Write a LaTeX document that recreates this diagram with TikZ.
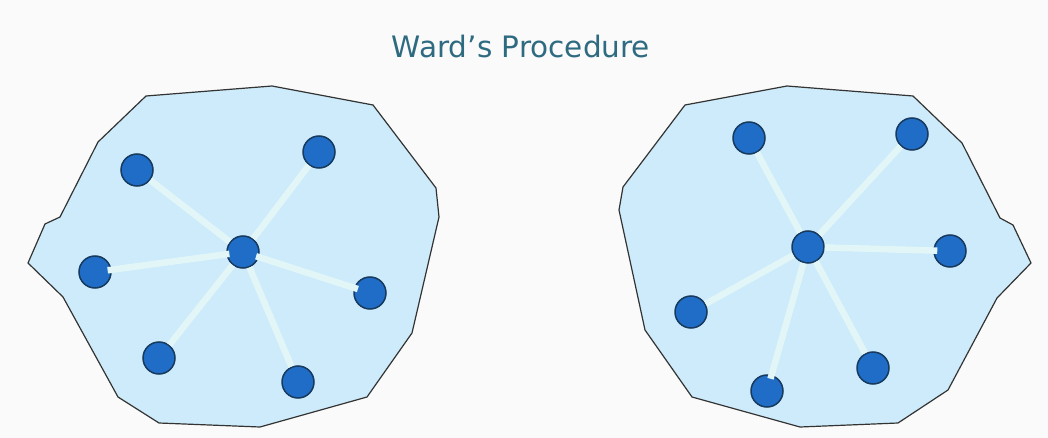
\documentclass[tikz,border=0pt]{standalone}
\usepackage{fontspec}
\setmainfont{DejaVu Sans}
\definecolor{titlec}{HTML}{2E6A80}
\definecolor{regionfill}{HTML}{CDEBFA}
\definecolor{regionline}{HTML}{333333}
\definecolor{dotfill}{HTML}{1F6DC6}
\definecolor{dotline}{HTML}{173A5E}
\definecolor{linkc}{HTML}{E2F6F8}
\definecolor{bgc}{HTML}{FAFAFA}
\begin{document}
\begin{tikzpicture}[x=1pt,y=-1pt,
  region/.style={fill=regionfill,draw=regionline,line width=1.2pt,line join=round},
  dot/.style={circle,fill=dotfill,draw=dotline,line width=1.5pt,minimum size=32pt,inner sep=0pt},
  link/.style={draw=linkc,line width=6.5pt},
  notch/.style={draw=linkc,line width=6.5pt,shorten <=-3pt,shorten >=-4pt}]
\fill[bgc] (0,0) rectangle (1048,438);
\useasboundingbox (0,0) rectangle (1048,438);
\node[text=titlec,font=\fontsize{29.5}{34}\selectfont] (title) at (521,47) {Ward’s Procedure};
% left cluster
\draw[region] (146,96) -- (272,86) -- (373,105) -- (436,188) -- (439,217) -- (412,333)
  -- (367,397) -- (260,427) -- (159,423) -- (118,397) -- (63,297) -- (28,263)
  -- (45,224) -- (60,217) -- (98,142) -- cycle;
% right cluster
\draw[region] (685,105) -- (787,86) -- (913,96) -- (962,143) -- (1000,218) -- (1013,225)
  -- (1031,263) -- (997,298) -- (948,390) -- (898,423) -- (800,427) -- (692,397)
  -- (645,330) -- (619,210) -- (623,187) -- cycle;
% left nodes
\node[dot] (lc) at (243,252) {};
\node[dot] (l1) at (137,170) {};
\node[dot] (l2) at (319,152) {};
\node[dot] (l3) at (95,272) {};
\node[dot] (l4) at (370,293) {};
\node[dot] (l5) at (159,358) {};
\node[dot] (l6) at (298,382) {};
% right nodes
\node[dot] (rc) at (808,247) {};
\node[dot] (r1) at (749,138) {};
\node[dot] (r2) at (912,134) {};
\node[dot] (r3) at (950,251) {};
\node[dot] (r4) at (691,312) {};
\node[dot] (r5) at (873,368) {};
\node[dot] (r6) at (767,391) {};
% links
\draw[link] (lc) -- (l1);
\draw[link] (lc) -- (l2);
\draw[link] (lc) -- (l5);
\draw[link] (lc) -- (l6);
\draw[notch] (lc) -- (l3);
\draw[notch] (lc) -- (l4);
\draw[link] (rc) -- (r1);
\draw[link] (rc) -- (r2);
\draw[link] (rc) -- (r4);
\draw[link] (rc) -- (r5);
\draw[link,shorten >=-4pt] (rc) -- (r3);
\draw[link,shorten >=-4pt] (rc) -- (r6);
\end{tikzpicture}
\end{document}
